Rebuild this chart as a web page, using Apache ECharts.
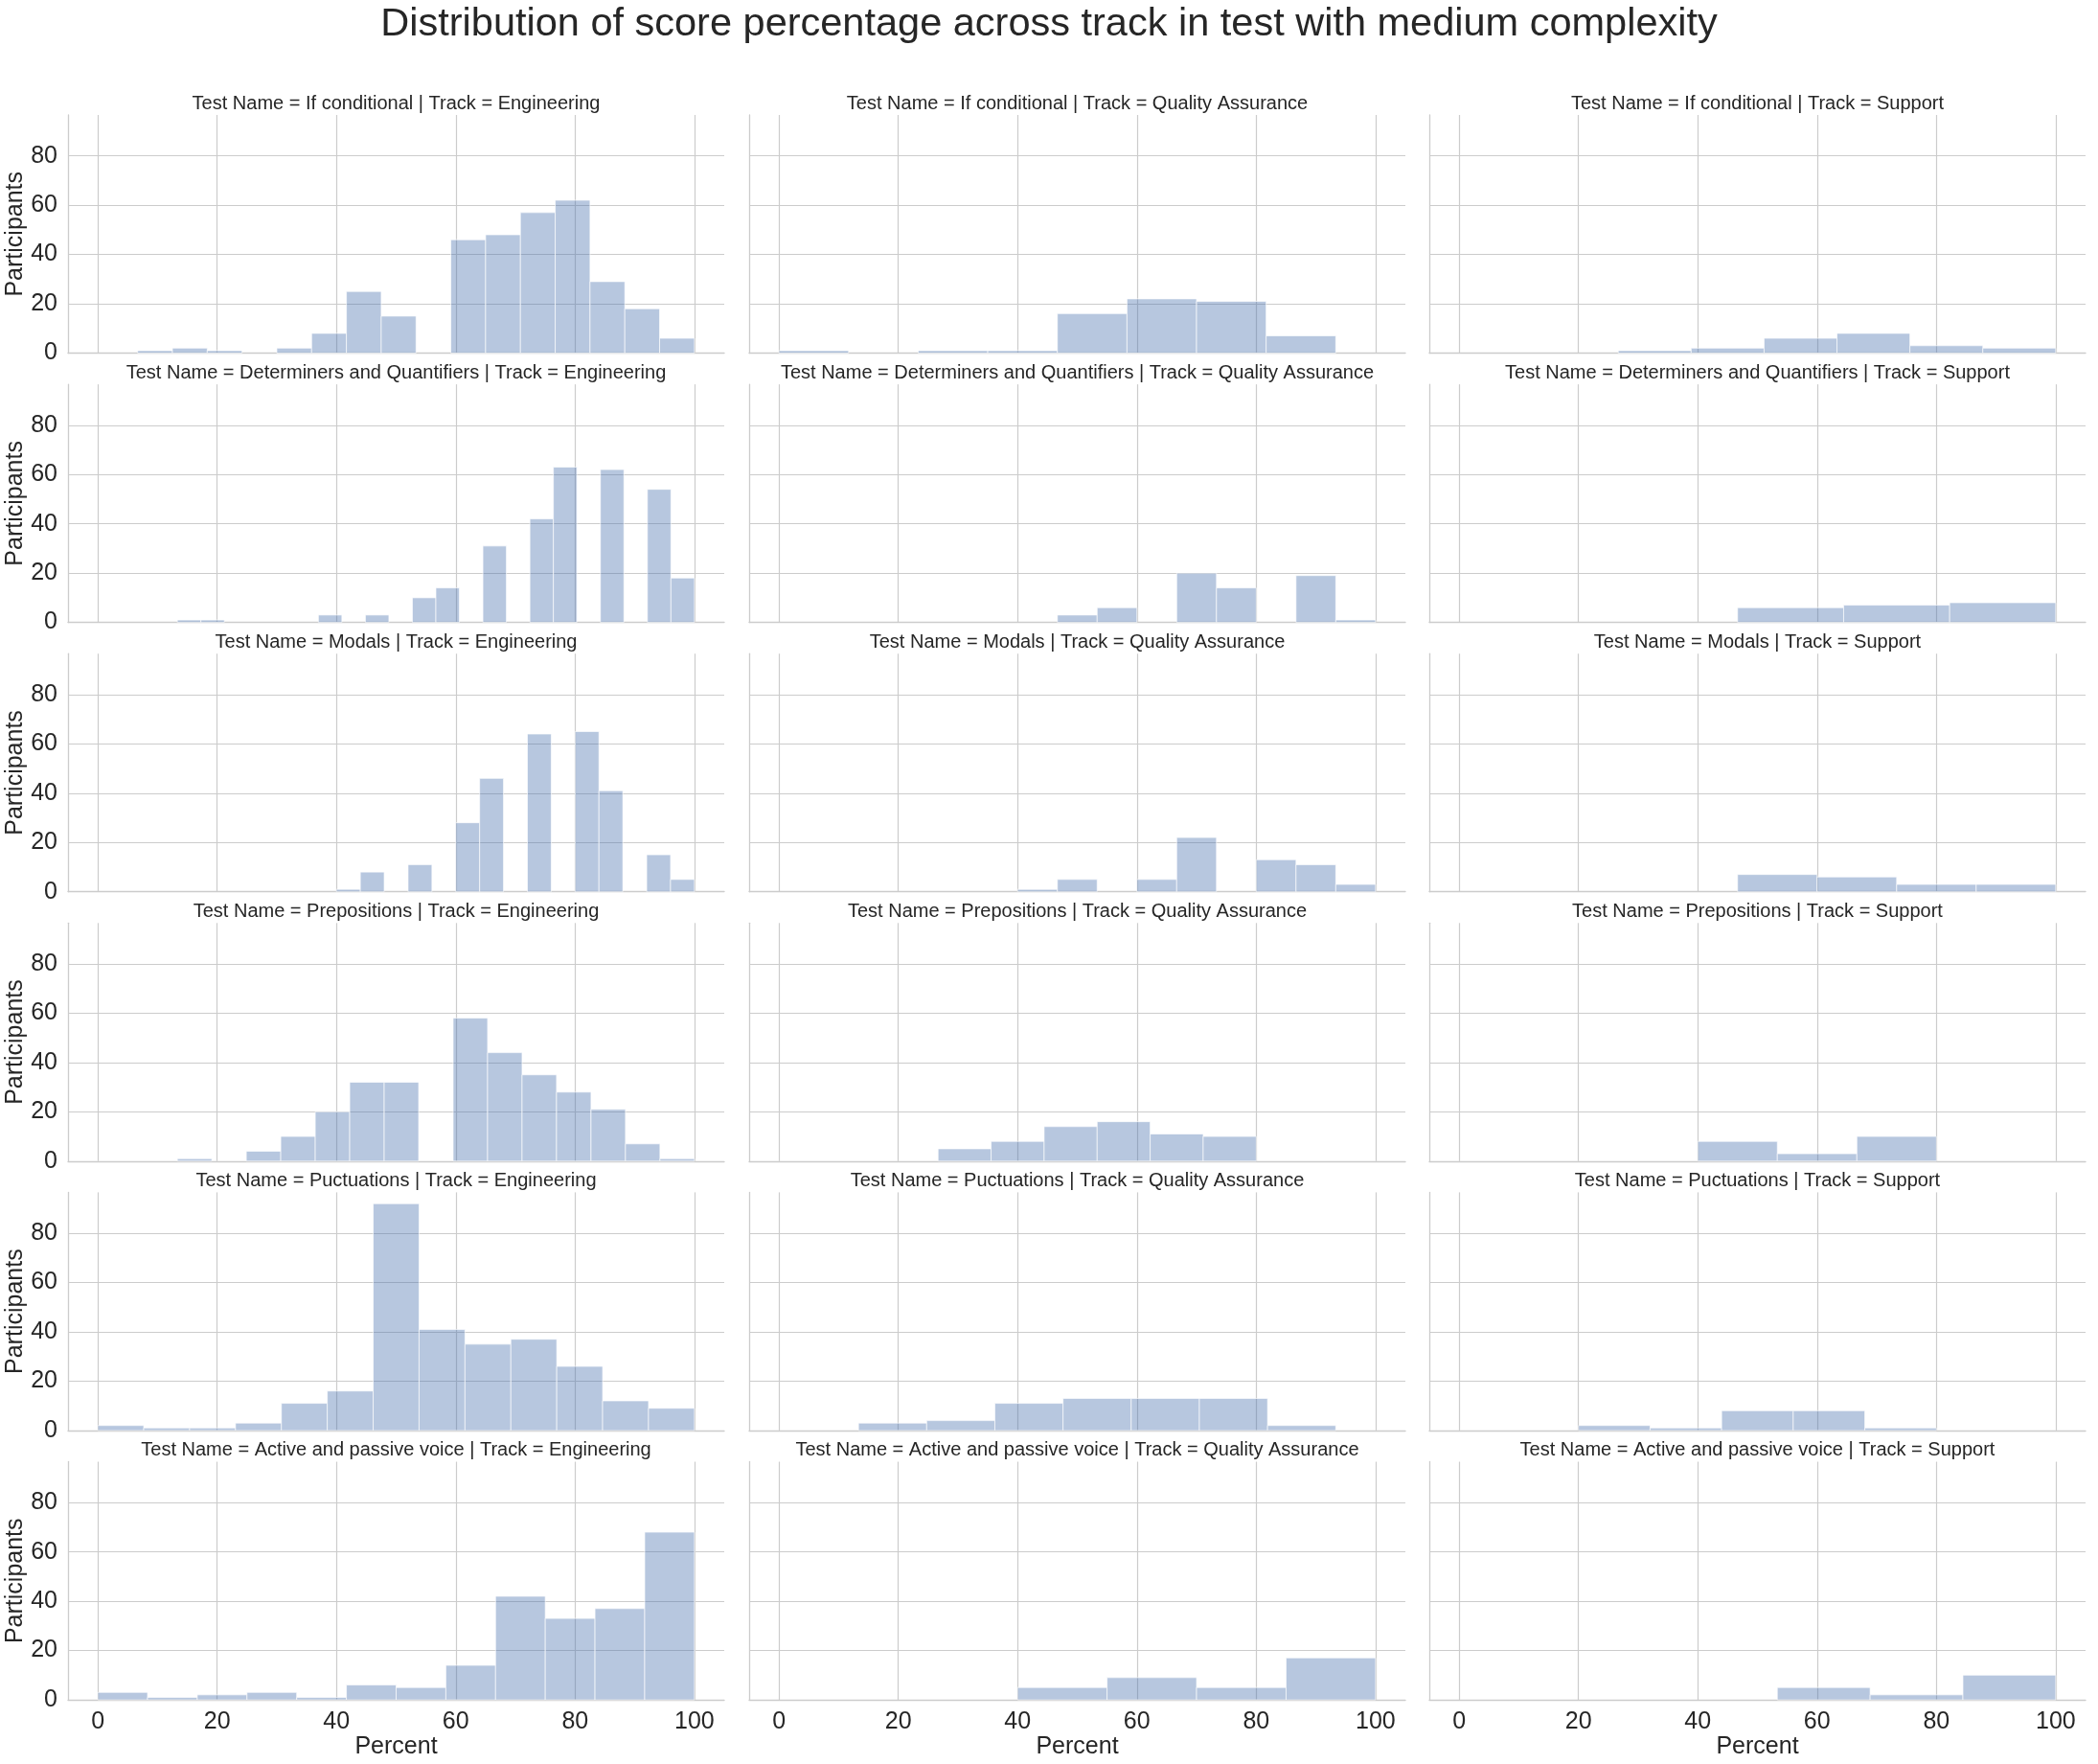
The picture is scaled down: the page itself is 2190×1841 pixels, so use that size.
<!DOCTYPE html>
<html><head><meta charset="utf-8">
<script src="https://cdn.jsdelivr.net/npm/echarts@6/dist/echarts.min.js"></script>
<style>html,body{margin:0;padding:0;background:#fff}#c{width:2190px;height:1841px}</style>
</head><body><div id="c"></div>
<script>
// ---------------- data ----------------
const chartTitle = 'Distribution of score percentage across track in test with medium complexity';
const tests = ['If conditional', 'Determiners and Quantifiers', 'Modals', 'Prepositions', 'Puctuations', 'Active and passive voice'];
const tracks = ['Engineering', 'Quality Assurance', 'Support'];
const xTicks = [0, 20, 40, 60, 80, 100];
const yTicks = [0, 20, 40, 60, 80];
const xExtent = [-5, 105];
const yExtent = [0, 96.6];
const xName = 'Percent';
const yName = 'Participants';

// histogram of each panel: [first bin edge, last bin edge] and counts per bin
const ifCond_Eng_edges = [6.67, 100];
const ifCond_Eng_counts = [1, 2, 1, 0, 2, 8, 25, 15, 0, 46, 48, 57, 62, 29, 18, 6];
const ifCond_QA_edges = [0, 93.33];
const ifCond_QA_counts = [1, 0, 1, 1, 16, 22, 21, 7];
const ifCond_Sup_edges = [26.67, 100];
const ifCond_Sup_counts = [1, 2, 6, 8, 3, 2];

const detQ_Eng_edges = [13.33, 100];
const detQ_Eng_counts = [1, 1, 0, 0, 0, 0, 3, 0, 3, 0, 10, 14, 0, 31, 0, 42, 63, 0, 62, 0, 54, 18];
const detQ_QA_edges = [46.67, 100];
const detQ_QA_counts = [3, 6, 0, 20, 14, 0, 19, 1];
const detQ_Sup_edges = [46.67, 100];
const detQ_Sup_counts = [6, 7, 8];

const modals_Eng_edges = [40, 100];
const modals_Eng_counts = [1, 8, 0, 11, 0, 28, 46, 0, 64, 0, 65, 41, 0, 15, 5];
const modals_QA_edges = [40, 100];
const modals_QA_counts = [1, 5, 0, 5, 22, 0, 13, 11, 3];
const modals_Sup_edges = [46.67, 100];
const modals_Sup_counts = [7, 6, 3, 3];

const prep_Eng_edges = [13.33, 100];
const prep_Eng_counts = [1, 0, 4, 10, 20, 32, 32, 0, 58, 44, 35, 28, 21, 7, 1];
const prep_QA_edges = [26.67, 80];
const prep_QA_counts = [5, 8, 14, 16, 11, 10];
const prep_Sup_edges = [40, 80];
const prep_Sup_counts = [8, 3, 10];

const punct_Eng_edges = [0, 100];
const punct_Eng_counts = [2, 1, 1, 3, 11, 16, 92, 41, 35, 37, 26, 12, 9];
const punct_QA_edges = [13.33, 93.33];
const punct_QA_counts = [3, 4, 11, 13, 13, 13, 2];
const punct_Sup_edges = [20, 80];
const punct_Sup_counts = [2, 1, 8, 8, 1];

const active_Eng_edges = [0, 100];
const active_Eng_counts = [3, 1, 2, 3, 1, 6, 5, 14, 42, 33, 37, 68];
const active_QA_edges = [40, 100];
const active_QA_counts = [5, 9, 5, 17];
const active_Sup_edges = [53.33, 100];
const active_Sup_counts = [5, 2, 10];

const panels = [
  [[ifCond_Eng_edges, ifCond_Eng_counts], [ifCond_QA_edges, ifCond_QA_counts], [ifCond_Sup_edges, ifCond_Sup_counts]],
  [[detQ_Eng_edges, detQ_Eng_counts], [detQ_QA_edges, detQ_QA_counts], [detQ_Sup_edges, detQ_Sup_counts]],
  [[modals_Eng_edges, modals_Eng_counts], [modals_QA_edges, modals_QA_counts], [modals_Sup_edges, modals_Sup_counts]],
  [[prep_Eng_edges, prep_Eng_counts], [prep_QA_edges, prep_QA_counts], [prep_Sup_edges, prep_Sup_counts]],
  [[punct_Eng_edges, punct_Eng_counts], [punct_QA_edges, punct_QA_counts], [punct_Sup_edges, punct_Sup_counts]],
  [[active_Eng_edges, active_Eng_counts], [active_QA_edges, active_QA_counts], [active_Sup_edges, active_Sup_counts]]
];

// ---------------- layout / style ----------------
const FONT = "'Liberation Sans', Arial, sans-serif";
const TXT = '#262626';
const GRIDC = '#cccccc';
const colLefts = [71, 782, 1492];
const panelW = 685;
const top0 = 120;
const rowStep = 281.1;
const panelH = 248.5;

const grid = [], xAxis = [], yAxis = [], series = [], graphic = [];

graphic.push({
  type: 'text', x: 1095, y: 26,
  style: { text: chartTitle, fill: TXT, font: '41.5px ' + FONT, align: 'center', verticalAlign: 'middle' }
});

let gi = 0;
for (let r = 0; r < tests.length; r++) {
  for (let c = 0; c < tracks.length; c++) {
    const left = colLefts[c];
    const top = top0 + r * rowStep;
    grid.push({ left: left, top: top, width: panelW, height: panelH, containLabel: false });
    const bottomRow = r === tests.length - 1;
    xAxis.push({
      type: 'value', gridIndex: gi, min: xExtent[0], max: xExtent[1],
      name: bottomRow ? xName : '', nameLocation: 'middle', nameGap: 36,
      nameTextStyle: { color: TXT, fontSize: 25, fontFamily: FONT },
      axisLine: { show: true, onZero: false, lineStyle: { color: GRIDC, width: 1.3 } },
      axisTick: { show: false, customValues: xTicks },
      axisLabel: { show: bottomRow, customValues: xTicks, color: TXT, fontSize: 25, fontFamily: FONT, margin: 11 },
      splitLine: { show: true, lineStyle: { color: GRIDC, width: 1.2 } }
    });
    yAxis.push({
      type: 'value', gridIndex: gi, min: yExtent[0], max: yExtent[1],
      name: c === 0 ? yName : '', nameLocation: 'middle', nameGap: 41, nameRotate: 90,
      nameTextStyle: { color: TXT, fontSize: 25, fontFamily: FONT },
      axisLine: { show: true, onZero: false, lineStyle: { color: GRIDC, width: 1.3 } },
      axisTick: { show: false, customValues: yTicks },
      axisLabel: { show: c === 0, customValues: yTicks, color: TXT, fontSize: 25, fontFamily: FONT, margin: 11 },
      splitLine: { show: true, lineStyle: { color: GRIDC, width: 1.2 } }
    });
    const [edges, counts] = panels[r][c];
    const w = (edges[1] - edges[0]) / counts.length;
    const data = counts.map((v, i) => [edges[0] + i * w, edges[0] + (i + 1) * w, v]);
    series.push({
      type: 'custom', xAxisIndex: gi, yAxisIndex: gi, data: data,
      encode: { x: [0, 1], y: 2 },
      renderItem: (params, api) => {
        const cnt = api.value(2);
        if (!cnt) return null;
        const p0 = api.coord([api.value(0), 0]);
        const p1 = api.coord([api.value(1), cnt]);
        return {
          type: 'rect',
          shape: { x: p0[0], y: p1[1], width: p1[0] - p0[0], height: p0[1] - p1[1] },
          style: { fill: 'rgba(76,114,176,0.4)', stroke: 'rgba(255,255,255,0.65)', lineWidth: 1 }
        };
      }
    });
    graphic.push({
      type: 'text', x: left + panelW / 2, y: top - 12,
      style: { text: 'Test Name = ' + tests[r] + ' | Track = ' + tracks[c], fill: TXT, font: '20px ' + FONT, align: 'center', verticalAlign: 'middle' }
    });
    gi++;
  }
}

const chart = echarts.init(document.getElementById('c'), null, { renderer: 'canvas' });
chart.setOption({
  animation: false,
  backgroundColor: '#ffffff',
  textStyle: { fontFamily: FONT },
  grid, xAxis, yAxis, series, graphic
});
</script>
</body></html>
